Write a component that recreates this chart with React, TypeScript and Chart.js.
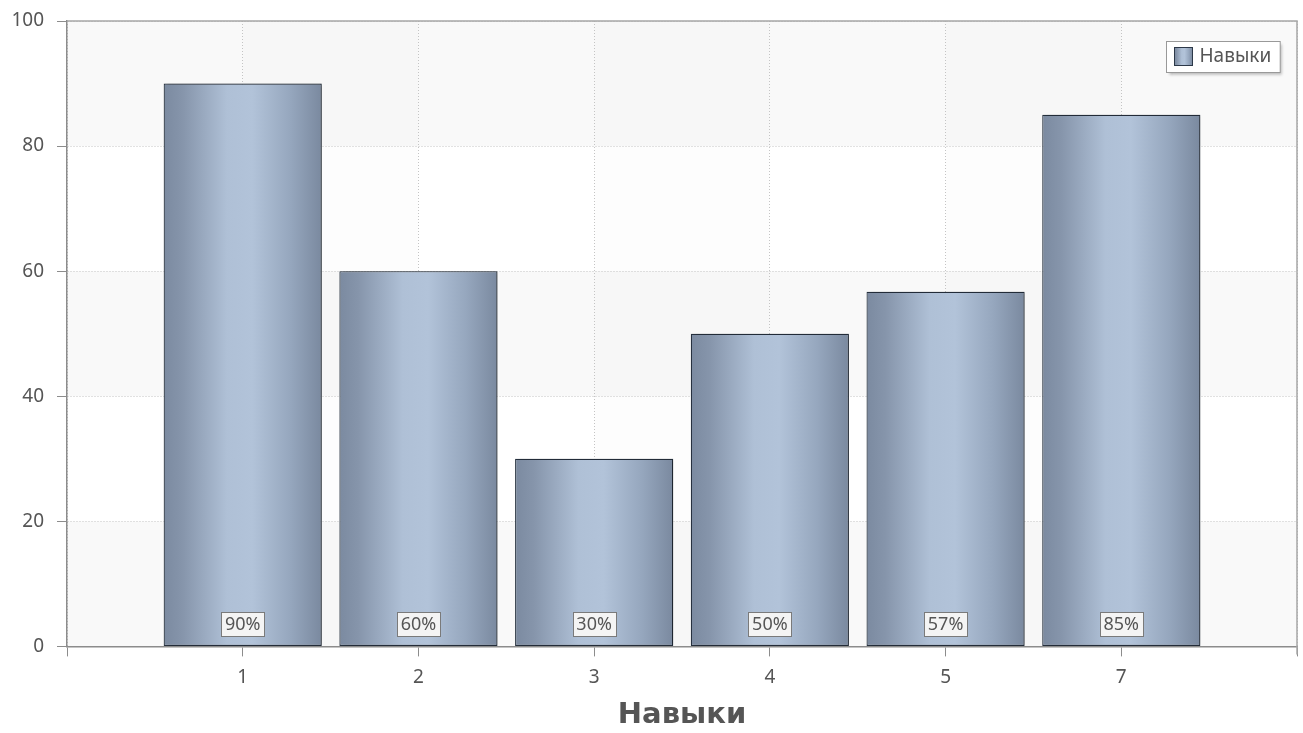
import React, { useEffect, useRef } from "react";
import { Chart, registerables } from "chart.js";

Chart.register(...registerables);

// ---- data ----
const categories = ["1", "2", "3", "4", "5", "7"];
const skillValues = [90, 60, 30, 50, 56.7, 85];
const yTickValues = [0, 20, 40, 60, 80, 100];
const seriesName = "Навыки";
const axisTitle = "Навыки";

const FONT = "'Noto Sans', 'DejaVu Sans', sans-serif";
const TITLE_FONT = "'DejaVu Sans', Verdana, sans-serif";
const TEXT = "#555555";
const AXIS = "#8c8c8c";

function barGradient(ctx: CanvasRenderingContext2D, left: number, right: number) {
  const g = ctx.createLinearGradient(left, 0, right, 0);
  g.addColorStop(0, "#7b8aa0");
  g.addColorStop(0.12, "#8695ab");
  g.addColorStop(0.4, "#afc0d6");
  g.addColorStop(0.56, "#b2c3d9");
  g.addColorStop(0.8, "#96a7be");
  g.addColorStop(1, "#7a899f");
  return g;
}

const backgroundPlugin = {
  id: "bgBands",
  beforeDraw(chart: any) {
    const { ctx, chartArea, scales } = chart;
    if (!chartArea) return;
    const ys = scales.y;
    const xs = scales.x;
    ctx.save();
    ctx.fillStyle = "#ffffff";
    ctx.fillRect(chartArea.left, chartArea.top, chartArea.width, chartArea.height);
    for (let i = 0; i < yTickValues.length - 1; i++) {
      if (i % 2 === 1) continue;
      const y0 = ys.getPixelForValue(yTickValues[i]);
      const y1 = ys.getPixelForValue(yTickValues[i + 1]);
      ctx.fillStyle = "#f9f9f9";
      ctx.fillRect(chartArea.left, y1, chartArea.width, y0 - y1);
    }
    const n = categories.length + 2;
    for (let i = 0; i < n - 1; i++) {
      if (i % 2 === 0) continue;
      const x0 = xs.getPixelForValue(i);
      const x1 = xs.getPixelForValue(i + 1);
      ctx.fillStyle = "rgba(0,0,0,0.008)";
      ctx.fillRect(x0, chartArea.top, x1 - x0, chartArea.height);
    }
    ctx.restore();
  },
};

const barDecorPlugin = {
  id: "barDecor",
  beforeDatasetsDraw(chart: any) {
    const ctx = chart.ctx;
    ctx.save();
    ctx.shadowColor = "rgba(0,0,0,0.28)";
    ctx.shadowOffsetX = 3;
    ctx.shadowOffsetY = 0;
    ctx.shadowBlur = 4;
  },
  afterDatasetsDraw(chart: any) {
    const ctx = chart.ctx;
    ctx.restore();
    const meta = chart.getDatasetMeta(0);
    const data = chart.data.datasets[0].data;
    ctx.save();
    ctx.font = `18px ${FONT}`;
    ctx.textAlign = "center";
    ctx.textBaseline = "middle";
    meta.data.forEach((el: any, i: number) => {
      const v = data[i];
      if (v == null) return;
      const label = `${Math.round(v)}%`;
      const w = Math.round(ctx.measureText(label).width + 7);
      const h = 24;
      const bottom = el.base - 10;
      const left = Math.round(el.x - w / 2) + 0.5;
      const top = Math.round(bottom - h) + 0.5;
      ctx.fillStyle = "#f4f4f4";
      ctx.fillRect(left, top, w, h);
      ctx.strokeStyle = "#7a7a7a";
      ctx.lineWidth = 1;
      ctx.strokeRect(left, top, w, h);
      ctx.fillStyle = TEXT;
      ctx.fillText(label, el.x, top + h / 2 + 0.5);
    });
    ctx.restore();
  },
};

const framePlugin = {
  id: "frameLegend",
  afterDraw(chart: any) {
    const { ctx, chartArea } = chart;
    if (!chartArea) return;
    ctx.save();
    // frame (top / right)
    ctx.strokeStyle = "#a6a6a6";
    ctx.lineWidth = 1.5;
    ctx.beginPath();
    ctx.moveTo(chartArea.left, chartArea.top);
    ctx.lineTo(chartArea.right, chartArea.top);
    ctx.lineTo(chartArea.right, chartArea.bottom + 8);
    ctx.stroke();

    // legend box
    const label = chart.data.datasets[0].label;
    ctx.font = `19px ${FONT}`;
    const tw = ctx.measureText(label).width;
    const sw = 18;
    const h = 31;
    const w = 8 + sw + 7 + tw + 9;
    const right = chartArea.right - 17;
    const left = Math.round(right - w) + 0.5;
    const top = Math.round(chartArea.top + 20) + 0.5;
    ctx.save();
    ctx.shadowColor = "rgba(0,0,0,0.3)";
    ctx.shadowOffsetX = 2;
    ctx.shadowOffsetY = 2;
    ctx.shadowBlur = 3;
    ctx.fillStyle = "#ffffff";
    ctx.fillRect(left, top, w, h);
    ctx.restore();
    ctx.strokeStyle = "#999999";
    ctx.lineWidth = 1;
    ctx.strokeRect(left, top, w, h);
    const sx = left + 8;
    const sy = top + 6;
    ctx.fillStyle = barGradient(ctx, sx, sx + sw);
    ctx.fillRect(sx, sy, sw, 18);
    ctx.strokeStyle = "#2c3848";
    ctx.strokeRect(sx, sy, sw, 18);
    ctx.fillStyle = TEXT;
    ctx.textAlign = "left";
    ctx.textBaseline = "middle";
    ctx.fillText(label, sx + sw + 7, top + h / 2);
    ctx.restore();
  },
};

export default function App() {
  const canvasRef = useRef<HTMLCanvasElement | null>(null);

  useEffect(() => {
    const canvas = canvasRef.current;
    if (!canvas) return;
    const labels = ["", ...categories, ""];
    const data = [null, ...skillValues, null];

    const chart = new Chart(canvas, {
      type: "bar",
      data: {
        labels,
        datasets: [
          {
            label: seriesName,
            data,
            backgroundColor: (c: any) => {
              const ch = c.chart;
              const xs = ch.scales && ch.scales.x;
              if (!xs || c.dataIndex == null) return "#a0b0c6";
              const cx = xs.getPixelForValue(c.dataIndex);
              const step = xs.getPixelForValue(1) - xs.getPixelForValue(0);
              const half = (step * 0.9) / 2;
              if (!isFinite(cx) || !isFinite(half)) return "#a0b0c6";
              return barGradient(ch.ctx, cx - half, cx + half);
            },
            borderColor: "#26313f",
            borderWidth: 1.2,
            borderSkipped: false,
            barPercentage: 0.9,
            categoryPercentage: 1,
          },
        ],
      },
      options: {
        animation: false,
        responsive: true,
        maintainAspectRatio: false,
        layout: { padding: { left: 10, right: 6, top: 21, bottom: 0 } },
        plugins: {
          legend: { display: false },
          tooltip: { enabled: false },
          title: { display: false },
        },
        scales: {
          x: {
            type: "category",
            offset: false,
            afterFit: (scale: any) => {
              scale.paddingLeft = 0;
              scale.paddingRight = 0;
            },
            grid: {
              offset: false,
              color: "#c4c4c4",
              lineWidth: 1,
              tickLength: 10,
              tickColor: AXIS,
              tickWidth: 1,
            },
            border: { display: true, color: AXIS, width: 1.5, dash: [1, 2] },
            ticks: {
              color: TEXT,
              font: { family: FONT, size: 19 },
              padding: 10,
              maxRotation: 0,
              autoSkip: false,
            },
            title: {
              display: true,
              text: axisTitle,
              color: TEXT,
              font: { family: TITLE_FONT, size: 29, weight: "bold" },
              padding: { top: -1, bottom: 0 },
            },
          },
          y: {
            min: 0,
            max: 100,
            afterFit: (scale: any) => {
              scale.width = 57;
              scale.paddingTop = 0;
              scale.paddingBottom = 0;
            },
            grid: {
              color: "#c4c4c4",
              lineWidth: 1,
              tickLength: 10,
              tickColor: AXIS,
              tickWidth: 1,
            },
            border: { display: true, color: AXIS, width: 1.5, dash: [1, 2] },
            ticks: {
              stepSize: 20,
              color: TEXT,
              font: { family: FONT, size: 19 },
              padding: 13,
            },
          },
        },
      },
      plugins: [backgroundPlugin, barDecorPlugin, framePlugin],
    } as any);

    return () => chart.destroy();
  }, []);

  return (
    <div
      style={{
        position: "fixed",
        left: 0,
        top: 0,
        width: 1303,
        height: 733,
        background: "#ffffff",
      }}
    >
      <canvas ref={canvasRef} />
    </div>
  );
}
